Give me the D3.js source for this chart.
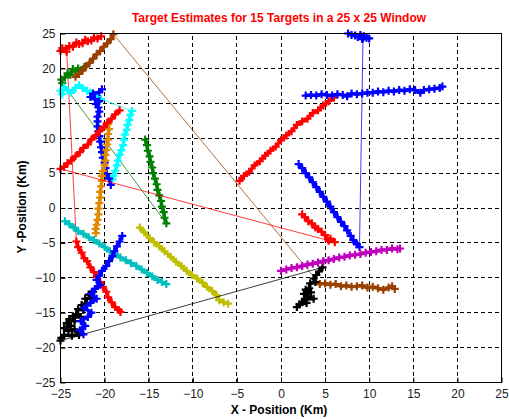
<!DOCTYPE html>
<html><head><meta charset="utf-8">
<script src="https://cdn.jsdelivr.net/npm/d3@7/dist/d3.min.js"></script>
<style>
body{margin:0;background:#fff;}
text{font-family:"Liberation Sans",Arial,sans-serif;}
</style></head>
<body><svg id="c" width="509" height="419"></svg>
<script>
// ---- data (km) ----
const xTicks = [-25,-20,-15,-10,-5,0,5,10,15,20,25];
const yTicks = [-25,-20,-15,-10,-5,0,5,10,15,20,25];
const titleText = "Target Estimates for 15 Targets in a 25 x 25 Window";
const xLabel = "X - Position (Km)";
const yLabel = "Y -Position (Km)";

const redA1 = [[-20.4,24.6],[-20.8,24.3],[-21.2,24.4],[-21.5,24.0],[-21.9,23.9],[-22.2,24.1],[-22.5,23.6],[-22.9,23.5],[-23.2,23.7],[-23.6,23.1],[-24.0,23.2],[-24.4,22.8],[-24.8,22.9],[-25.0,22.5],[-24.3,22.4]];
const redA2 = [[-23.2,-4.8],[-23.0,-5.6],[-22.6,-6.4],[-22.3,-7.2],[-22.0,-7.6],[-21.6,-8.5],[-21.2,-9.2],[-20.9,-9.9],[-20.5,-10.6],[-20.2,-11.3],[-19.8,-12.0],[-19.6,-12.8],[-19.2,-13.5],[-18.8,-14.2],[-18.4,-14.6],[-18.2,-14.9]];
const redB1 = [[-18.3,14.0],[-18.8,13.4],[-19.2,12.8],[-19.7,12.2],[-20.1,11.6],[-20.6,11.0],[-21.0,10.4],[-21.5,9.8],[-21.9,9.1],[-22.4,8.6],[-22.8,8.0],[-23.3,7.4],[-23.8,6.8],[-24.2,6.4],[-24.6,5.9],[-25.0,5.6]];
const redB2 = [[6.1,-4.9],[5.6,-4.4],[5.4,-4.7],[5.0,-3.9],[4.6,-3.4],[4.2,-3.0],[3.9,-2.8],[3.5,-2.2],[3.1,-1.9],[2.7,-1.3],[2.4,-0.9]];
const redC1 = [[-4.7,3.9],[-4.2,4.6],[-3.6,5.2],[-3.0,6.1],[-2.4,6.7],[-1.8,7.5],[-1.2,8.2],[-0.6,8.8],[0.0,9.7],[0.6,10.4],[1.2,11.0],[1.8,11.9],[2.4,12.4],[3.0,12.8],[3.6,13.6],[4.2,14.0],[4.8,14.7],[5.4,15.3],[6.0,15.8]];
const blueA1 = [[7.6,25.0],[8.0,24.8],[8.4,24.7],[8.7,24.5],[9.0,24.8],[9.2,24.2],[9.4,24.6],[9.7,24.4],[10.0,24.3],[9.3,24.4]];
const blueA2 = [[8.9,-5.6],[8.6,-5.2],[8.2,-4.6],[7.9,-4.0],[7.5,-3.2],[7.2,-2.6],[6.8,-2.0],[6.4,-1.3],[6.0,-0.6],[5.6,0.2],[5.2,0.9],[4.8,1.6],[4.4,2.3],[4.0,3.0],[3.6,3.7],[3.2,4.4],[2.8,5.0],[2.4,5.7],[2.0,6.3]];
const blueB1 = [[2.8,16.1],[3.4,16.2],[4.0,16.1],[4.6,16.3],[5.2,16.2],[5.8,16.1],[6.4,16.3],[7.0,16.2],[7.5,16.0],[8.0,16.4],[8.6,16.3],[9.2,16.4],[9.8,16.5],[10.4,16.5],[11.0,16.7],[11.6,16.6],[12.2,16.8],[12.8,16.7],[13.4,16.9],[14.0,16.8],[14.6,17.0],[15.2,16.9],[15.8,16.5],[16.2,16.9],[16.8,17.0],[17.4,17.1],[18.0,17.2],[18.3,17.4]];
const blueC1 = [[-20.3,17.0],[-20.6,16.6],[-21.3,16.4],[-21.6,15.9],[-21.1,15.6],[-20.6,15.3],[-21.0,14.9],[-20.7,14.4],[-20.6,13.8],[-20.8,13.1],[-20.8,12.4],[-20.8,11.7],[-20.7,11.0],[-20.6,10.3],[-20.5,9.5],[-20.4,8.7],[-20.3,8.0],[-20.2,7.2],[-20.0,6.5],[-19.9,5.7],[-19.8,4.9],[-19.5,4.2],[-19.3,3.3]];
const blueD1 = [[-18.0,-4.0],[-18.3,-4.8],[-18.6,-5.5],[-18.9,-6.2],[-19.1,-6.9],[-19.5,-7.6],[-19.8,-8.3],[-20.3,-9.0],[-20.6,-9.7],[-20.9,-10.3],[-20.5,-11.0],[-21.1,-11.6],[-21.5,-12.3],[-20.9,-13.0],[-21.6,-13.6],[-22.3,-14.3],[-21.5,-15.0],[-21.9,-15.6],[-22.7,-16.2],[-22.2,-16.9],[-22.8,-17.5],[-22.4,-18.1]];
const cyanA1 = [[-25.0,16.8],[-24.8,16.3],[-24.6,17.3],[-24.2,16.9],[-23.8,16.5],[-23.3,17.2],[-22.9,17.6],[-22.5,17.2],[-22.0,16.8],[-21.6,16.5],[-21.2,16.1],[-20.8,15.8],[-20.4,15.6]];
const cyanA2 = [[-16.9,13.9],[-17.1,13.3],[-17.2,12.6],[-17.4,11.9],[-17.5,11.2],[-17.7,10.5],[-17.8,9.8],[-17.9,9.0],[-18.1,8.3],[-18.3,7.6],[-18.5,6.8],[-18.6,6.1],[-18.8,5.3],[-19.0,4.6],[-19.1,4.1]];
const tealB1 = [[-24.5,-1.9],[-24.0,-2.3],[-23.5,-2.8],[-23.0,-3.3],[-22.4,-3.7],[-21.8,-4.2],[-21.2,-4.6],[-20.6,-5.1],[-20.0,-5.6],[-19.4,-6.2],[-18.8,-6.6],[-18.2,-7.1],[-17.6,-7.5],[-17.0,-7.9],[-16.4,-8.3],[-15.8,-8.8],[-15.2,-9.3],[-14.6,-9.8],[-14.0,-10.3],[-13.5,-10.6],[-13.0,-10.9]];
const greenA1 = [[-22.3,20.2],[-22.6,19.7],[-23.0,20.0],[-23.3,19.6],[-23.6,19.9],[-23.9,19.1],[-24.2,19.3],[-24.5,18.7],[-24.9,18.4],[-24.8,17.9]];
const greenA2 = [[-13.0,-2.2],[-13.2,-1.4],[-13.3,-0.6],[-13.5,0.2],[-13.6,1.0],[-13.8,1.8],[-14.0,2.6],[-14.1,3.4],[-14.3,4.2],[-14.5,5.0],[-14.6,5.8],[-14.8,6.6],[-14.9,7.4],[-15.1,8.2],[-15.2,9.0],[-15.4,9.8]];
const brownA1 = [[-23.3,18.8],[-22.9,19.2],[-22.5,19.7],[-22.1,20.3],[-21.7,20.8],[-21.3,21.4],[-20.9,22.0],[-20.5,22.5],[-20.1,23.1],[-19.7,23.6],[-19.3,24.2],[-19.0,24.9]];
const brownA2 = [[4.4,-10.9],[5.0,-10.8],[5.6,-11.0],[6.2,-10.9],[6.8,-11.2],[7.4,-11.1],[8.0,-11.3],[8.6,-11.2],[9.2,-11.1],[9.8,-11.4],[10.4,-11.3],[11.0,-11.5],[11.6,-11.7],[12.2,-11.4],[12.6,-11.2],[12.9,-11.6]];
const blackA1 = [[-21.3,-12.0],[-21.8,-12.4],[-21.6,-12.9],[-22.2,-13.0],[-22.0,-13.7],[-22.6,-13.9],[-22.4,-14.6],[-23.0,-14.5],[-23.2,-15.2],[-22.7,-15.6],[-23.6,-15.5],[-23.4,-16.2],[-24.0,-15.9],[-24.3,-16.5],[-23.8,-16.9],[-24.6,-17.2],[-24.1,-17.6],[-23.4,-17.4],[-22.9,-18.2],[-23.7,-18.3],[-24.6,-18.2],[-24.9,-18.6],[-25.0,-19.0]];
const blackA2 = [[4.7,-8.5],[4.3,-9.1],[4.0,-9.6],[3.7,-10.1],[3.9,-10.6],[3.3,-10.8],[3.2,-11.5],[2.8,-11.7],[3.4,-12.1],[2.6,-12.3],[3.1,-12.7],[3.7,-13.0],[2.7,-13.0],[2.4,-13.5],[2.9,-13.6],[2.1,-13.8],[1.8,-14.2]];
const magentaA1 = [[0.0,-9.0],[0.6,-8.8],[1.2,-8.6],[1.8,-8.5],[2.4,-8.3],[3.0,-8.1],[3.6,-8.0],[4.2,-7.8],[4.8,-7.6],[5.4,-7.5],[6.0,-7.3],[6.6,-7.1],[7.2,-7.0],[7.8,-6.8],[8.4,-6.7],[9.0,-6.6],[9.6,-6.4],[10.2,-6.3],[10.8,-6.2],[11.4,-6.0],[12.0,-6.0],[12.6,-5.8],[13.2,-5.9],[13.5,-5.8]];
const yellowA1 = [[-16.0,-2.8],[-15.5,-3.5],[-14.9,-4.3],[-14.4,-4.9],[-13.8,-5.5],[-13.2,-6.2],[-12.5,-7.0],[-11.9,-7.7],[-11.3,-8.3],[-10.7,-9.0],[-10.1,-9.6],[-9.5,-10.1],[-8.9,-10.7],[-8.4,-11.3],[-7.8,-11.9],[-7.3,-12.5],[-7.0,-13.2],[-6.5,-13.5],[-6.0,-13.7]];
const orangeA1 = [[-19.6,12.0],[-19.5,11.3],[-19.6,10.6],[-19.6,9.8],[-19.7,9.1],[-19.8,8.3],[-19.9,7.6],[-19.9,6.8],[-20.0,6.1],[-20.2,5.3],[-20.3,4.6],[-20.3,3.9],[-20.4,3.1],[-20.5,2.3],[-20.5,1.5],[-20.6,0.7],[-20.7,-0.1],[-20.7,-0.9],[-20.8,-1.7],[-20.9,-2.4],[-21.0,-3.0],[-21.0,-3.6]];

const targets = [
  {name:"redA", segs:[redA1, redA2]},
  {name:"greenA", segs:[greenA1, greenA2]},
  {name:"cyanA", segs:[cyanA1, cyanA2]},
  {name:"blueC", segs:[blueC1]},
  {name:"orangeA", segs:[orangeA1]},
  {name:"redB", segs:[redB1, redB2]},
  {name:"brownA", segs:[brownA1, brownA2]},
  {name:"tealB", segs:[tealB1]},
  {name:"yellowA", segs:[yellowA1]},
  {name:"blackA", segs:[blackA1, blackA2]},
  {name:"blueD", segs:[blueD1]},
  {name:"redC", segs:[redC1]},
  {name:"blueA", segs:[blueA1, blueA2]},
  {name:"blueB", segs:[blueB1]},
  {name:"magentaA", segs:[magentaA1]}
];
// ---- styles ----
const colors = {redA:"#ff0000", redB:"#ff0000", redC:"#ff0000", blueA:"#0000ff", blueB:"#0000ff", blueC:"#0000ff", blueD:"#0000ff",
  cyanA:"#00ffff", tealB:"#00bfbf", greenA:"#008000", brownA:"#9a4000", blackA:"#000000", magentaA:"#bf00bf", yellowA:"#bfbf00", orangeA:"#e08800"};

const svg = d3.select("#c");
const x = d3.scaleLinear().domain([-25,25]).range([60.5,501.5]);
const y = d3.scaleLinear().domain([-25,25]).range([382.5,33.5]);

// grid
const g = svg.append("g");
g.selectAll("line.gx").data(xTicks.slice(1,-1)).join("line")
  .attr("x1",d=>x(d)).attr("x2",d=>x(d)).attr("y1",y(-25)).attr("y2",y(25))
  .attr("stroke","#000").attr("stroke-width",1).attr("stroke-dasharray","4,3").attr("shape-rendering","crispEdges");
g.selectAll("line.gy").data(yTicks.slice(1,-1)).join("line")
  .attr("y1",d=>y(d)).attr("y2",d=>y(d)).attr("x1",x(-25)).attr("x2",x(25))
  .attr("stroke","#000").attr("stroke-width",1).attr("stroke-dasharray","4,3").attr("shape-rendering","crispEdges");

// tracks
const line = d3.line().x(d=>x(d[0])).y(d=>y(d[1]));
const plot = svg.append("g");
targets.forEach(t=>{
  const c = colors[t.name];
  for(let i=0;i<t.segs.length-1;i++){
    const a = t.segs[i][t.segs[i].length-1], b = t.segs[i+1][0];
    plot.append("path").attr("d", line([a,b])).attr("fill","none").attr("stroke",c).attr("stroke-width",0.9).attr("opacity",0.85);
  }
  t.segs.forEach(s=>{
    plot.append("path").attr("d", line(s)).attr("fill","none").attr("stroke",c).attr("stroke-width",3.5).attr("stroke-linejoin","round");
    plot.selectAll(null).data(s).join("path")
      .attr("transform",d=>`translate(${x(d[0])},${y(d[1])})`)
      .attr("d","M-4,0H4M0,-4V4").attr("stroke",c).attr("stroke-width",2.2).attr("fill","none");
  });
});

// axes box
const xAxis = d3.axisBottom(x).tickValues(xTicks).tickSize(-5).tickPadding(9).tickFormat(d3.format("d"));
const yAxis = d3.axisLeft(y).tickValues(yTicks).tickSize(-5).tickPadding(9).tickFormat(d3.format("d"));
const ax = svg.append("g").attr("transform",`translate(0,${y(-25)})`).call(xAxis);
const ay = svg.append("g").attr("transform",`translate(${x(-25)},0)`).call(yAxis);
[ax,ay].forEach(a=>{
  a.select(".domain").remove();
  a.selectAll("text").attr("font-size",12).attr("fill","#222").attr("font-family","Liberation Sans, Arial, sans-serif");
  a.selectAll("line").attr("stroke","#000");
});
ay.selectAll("text").attr("x",-5);
ax.selectAll("text").attr("y",7);
svg.append("rect").attr("x",x(-25)).attr("y",y(25)).attr("width",x(25)-x(-25)).attr("height",y(-25)-y(25))
  .attr("fill","none").attr("stroke","#000").attr("stroke-width",1).attr("shape-rendering","crispEdges");

// labels
svg.append("text").attr("x",279).attr("y",21.5).attr("text-anchor","middle").attr("font-size",12).attr("font-weight","bold").attr("fill","#ff0000").text(titleText);
svg.append("text").attr("x",279).attr("y",414).attr("text-anchor","middle").attr("font-size",12).attr("font-weight","bold").attr("fill","#000").text(xLabel);
svg.append("text").attr("transform","translate(25.5,207) rotate(-90)").attr("text-anchor","middle").attr("font-size",12).attr("font-weight","bold").attr("fill","#000").text(yLabel);
</script></body></html>
